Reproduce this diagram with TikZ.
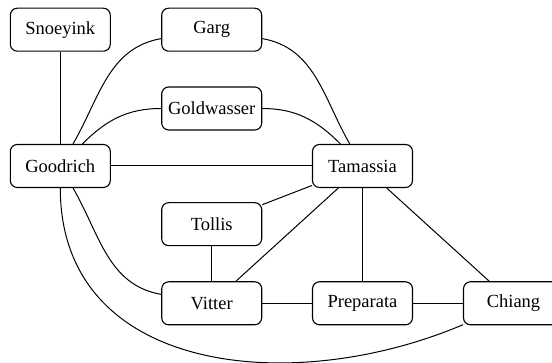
\documentclass[tikz,border=0pt]{standalone}
\usepackage{fontspec}
\setmainfont{Liberation Serif}
\begin{document}
\begin{tikzpicture}[x=1pt,y=1pt,
  person/.style={draw, line width=1.1pt, rounded corners=7pt, minimum width=100pt, minimum height=43pt, inner sep=0pt, font=\fontsize{18.5}{22}\selectfont},
  link/.style={line width=1pt}]
\useasboundingbox (0,0) rectangle (552,363);
\node[person] (snoeyink) at (60.3,333.3) {Snoeyink};
\node[person] (garg) at (211.7,333.3) {Garg};
\node[person] (goldwasser) at (211.7,254.5) {Goldwasser};
\node[person] (goodrich) at (60.3,197) {Goodrich};
\node[person] (tamassia) at (362.5,197) {Tamassia};
\node[person] (tollis) at (211.7,138.8) {Tollis};
\node[person] (vitter) at (211.7,59.7) {Vitter};
\node[person] (preparata) at (362.5,59.7) {Preparata};
\node[person] (chiang) at (513.5,59.7) {Chiang};
\draw[link] (snoeyink) -- (goodrich);
\draw[link] (goodrich) to[out=60,in=190] (garg);
\draw[link] (garg) to[out=-10,in=120] (tamassia);
\draw[link] (goodrich) to[out=45,in=180] (goldwasser);
\draw[link] (goldwasser) to[out=0,in=135] (tamassia);
\draw[link] (goodrich) -- (tamassia);
\draw[link] (goodrich) to[out=-60,in=170] (vitter);
\draw[link] (goodrich) to[out=-90,in=203,looseness=1.12] (chiang);
\draw[link] (tamassia) -- (tollis);
\draw[link] (tamassia) -- (vitter);
\draw[link] (tamassia) -- (preparata);
\draw[link] (tamassia) -- (chiang);
\draw[link] (tollis) -- (vitter);
\draw[link] (vitter) -- (preparata);
\draw[link] (preparata) -- (chiang);
\end{tikzpicture}
\end{document}
